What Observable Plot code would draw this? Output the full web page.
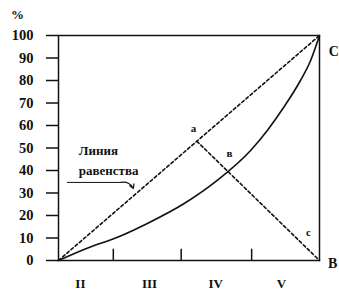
<!DOCTYPE html>
<html><head><meta charset="utf-8">
<script src="https://cdn.jsdelivr.net/npm/d3@7"></script>
<script src="https://cdn.jsdelivr.net/npm/@observablehq/plot@0.6"></script>
<style>body{margin:0;background:#fff}</style>
</head><body><div id="chart"></div>
<script>
// Lorenz curve (cumulative % of population vs cumulative % of income)
const lorenzX = [0, 10, 24, 35, 48, 60.8, 73.6, 80, 86.3, 92.7, 96.6, 100];
const lorenzY = [0, 5, 11, 17, 25.2, 35.6, 48.9, 57.8, 68.1, 80, 88.9, 100];
// Line of equality (0,0)-(100,100)
const equalityX = [0, 100];
const equalityY = [0, 100];
// Line a–c from the equality line to point B
const crossX = [53, 100];
const crossY = [53, 0];
// Axis ticks and labels
const yTicks = [0, 10, 20, 30, 40, 50, 60, 70, 80, 90, 100];
const xTicks = [21, 47, 74];
const groupLabels = ["II", "III", "IV", "V"];
const groupLabelX = [8.4, 34.9, 60.2, 85.4];
const groupLabelY = -10.5;
// Point labels
const pointLabels = ["а", "в", "с"];
const pointLabelX = [51.7, 65.5, 95.8];
const pointLabelY = [58.5, 47.5, 12.5];
const cornerLabels = ["C", "B"];
const cornerLabelX = [105.5, 105];
const cornerLabelY = [93, -1.3];
// Annotation "Линия равенства"
const noteLines = ["Линия", "равенства"];
const noteX = [15.3, 19.2];
const noteY = [48.9, 40];
const underlineX = [3.4, 24];
const underlineY = [34.7, 34.7];
const arrowFrom = [24, 34.7];
const arrowTo = [28.7, 32];
const unitLabel = "%";
const unitX = -15.7, unitY = 109;

const ink = "#111";
const serif = "Liberation Serif";

const lorenz = lorenzX.map((x, i) => ({x, y: lorenzY[i]}));
const equality = equalityX.map((x, i) => ({x, y: equalityY[i]}));
const cross = crossX.map((x, i) => ({x, y: crossY[i]}));
const groups = groupLabels.map((t, i) => ({t, x: groupLabelX[i], y: groupLabelY}));
const points = pointLabels.map((t, i) => ({t, x: pointLabelX[i], y: pointLabelY[i]}));
const corners = cornerLabels.map((t, i) => ({t, x: cornerLabelX[i], y: cornerLabelY[i]}));
const notes = noteLines.map((t, i) => ({t, x: noteX[i], y: noteY[i]}));
const underline = underlineX.map((x, i) => ({x, y: underlineY[i]}));

const chart = Plot.plot({
  width: 339, height: 291,
  marginLeft: 58, marginRight: 20, marginTop: 35, marginBottom: 31,
  x: {domain: [0, 100], axis: null},
  y: {domain: [0, 100], axis: null},
  style: {background: "#fff", color: ink, fontFamily: serif},
  marks: [
    Plot.frame({stroke: ink, strokeWidth: 1.5}),
    Plot.axisY({ticks: yTicks, tickSize: 12, tickPadding: 13, strokeWidth: 1.5,
      fontSize: 14.5, fontWeight: "bold", fontFamily: serif, fill: ink, stroke: ink, label: null}),
    Plot.ruleX(xTicks, {x: d => d, y1: 0, y2: 5, stroke: ink, strokeWidth: 1.5}),
    Plot.line(equality, {x: "x", y: "y", stroke: ink, strokeWidth: 1.6, strokeDasharray: "3,2.5"}),
    Plot.line(cross, {x: "x", y: "y", stroke: ink, strokeWidth: 1.6, strokeDasharray: "3,2.5"}),
    Plot.line(lorenz, {x: "x", y: "y", curve: "monotone-x", stroke: ink, strokeWidth: 1.6}),
    Plot.line(underline, {x: "x", y: "y", stroke: ink, strokeWidth: 1}),
    Plot.arrow([0], {x1: () => arrowFrom[0], y1: () => arrowFrom[1], x2: () => arrowTo[0], y2: () => arrowTo[1],
      bend: 40, stroke: ink, strokeWidth: 1.2, headLength: 6}),
    Plot.text(groups, {x: "x", y: "y", text: "t", fontSize: 13, fontWeight: "bold", fontFamily: serif, fill: ink}),
    Plot.text(points, {x: "x", y: "y", text: "t", fontSize: 11, fontWeight: "bold", fontFamily: serif, fill: ink}),
    Plot.text(corners, {x: "x", y: "y", text: "t", fontSize: 14, fontWeight: "bold", fontFamily: serif, fill: ink}),
    Plot.text(notes, {x: "x", y: "y", text: "t", fontSize: 13, fontWeight: "bold", fontFamily: serif, fill: ink}),
    Plot.text([unitLabel], {x: () => unitX, y: () => unitY, text: d => d, fontSize: 13, fontWeight: "bold", fontFamily: serif, fill: ink})
  ]
});
document.getElementById("chart").appendChild(chart);
</script>
</body></html>
